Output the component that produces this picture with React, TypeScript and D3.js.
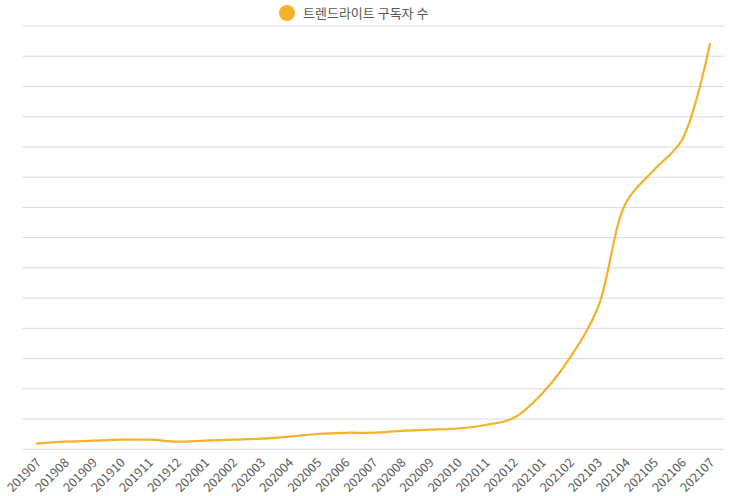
import React, { useEffect, useRef } from 'react';
import * as d3 from 'd3';

// monthly categories, 2019-07 .. 2021-07
const months = [
    '201907', '201908', '201909', '201910', '201911', '201912',
    '202001', '202002', '202003', '202004', '202005', '202006',
    '202007', '202008', '202009', '202010', '202011', '202012',
    '202101', '202102', '202103', '202104', '202105', '202106', '202107',
];

// subscriber counts (y axis labels are hidden)
const subscribers = [
    185, 251, 284, 317, 317, 251,
    284, 317, 351, 417, 506, 546,
    549, 612, 648, 688, 804, 1035,
    1829, 3019, 4673, 8145, 9236, 10228, 13403,
];

const yTicks = d3.range(0, 14001, 1000);
const seriesName = '트렌드라이트 구독자 수';

export default function App() {
    const svgRef = useRef<SVGSVGElement>(null);

    useEffect(() => {
        if (!svgRef.current) return;

        const width = 743;
        const height = 496;
        const left = 22.7;
        const right = 724;
        const top = 26;
        const bottom = 449.3;
        const orange = '#F4B12A';

        const svg = d3.select(svgRef.current);
        svg.selectAll('*').remove();
        svg.attr('width', width).attr('height', height)
            .style('font-family', '"Noto Sans CJK KR", "Noto Sans", sans-serif');

        const x = d3.scaleBand<string>().domain(months).range([left, right]);
        const y = d3.scaleLinear().domain([0, 14000]).range([bottom, top]);
        const cx = (m: string) => (x(m) || 0) + x.bandwidth() / 2;

        // grid
        svg.append('g')
            .selectAll('line')
            .data(yTicks)
            .join('line')
            .attr('x1', left)
            .attr('x2', right)
            .attr('y1', d => y(d))
            .attr('y2', d => y(d))
            .attr('stroke', '#D9D9D9')
            .attr('stroke-width', 1);

        // x labels, rotated
        svg.append('g')
            .selectAll('text')
            .data(months)
            .join('text')
            .attr('transform', d => `translate(${cx(d) + 2},${bottom + 11}) rotate(-45)`)
            .attr('text-anchor', 'end')
            .attr('dy', '0.35em')
            .attr('fill', '#595959')
            .style('font-size', '12.5px')
            .text(d => d);

        // line
        const line = d3.line<number>()
            .x((_, i) => cx(months[i]))
            .y(d => y(d))
            .curve(d3.curveCatmullRom.alpha(0.5));

        svg.append('path')
            .datum(subscribers)
            .attr('d', line)
            .attr('fill', 'none')
            .attr('stroke', orange)
            .attr('stroke-width', 2.25)
            .attr('stroke-linejoin', 'round')
            .attr('stroke-linecap', 'round');

        // legend
        const legend = svg.append('g').attr('transform', 'translate(287,13)');
        legend.append('circle').attr('r', 8).attr('fill', orange);
        legend.append('text')
            .attr('x', 16)
            .attr('dy', '0.35em')
            .attr('fill', '#595959')
            .style('font-size', '13px')
            .text(seriesName);
    }, []);

    return (
        <div style={{ position: 'absolute', left: 0, top: 0, width: 743, height: 496, background: '#fff' }}>
            <svg ref={svgRef}></svg>
        </div>
    );
}
